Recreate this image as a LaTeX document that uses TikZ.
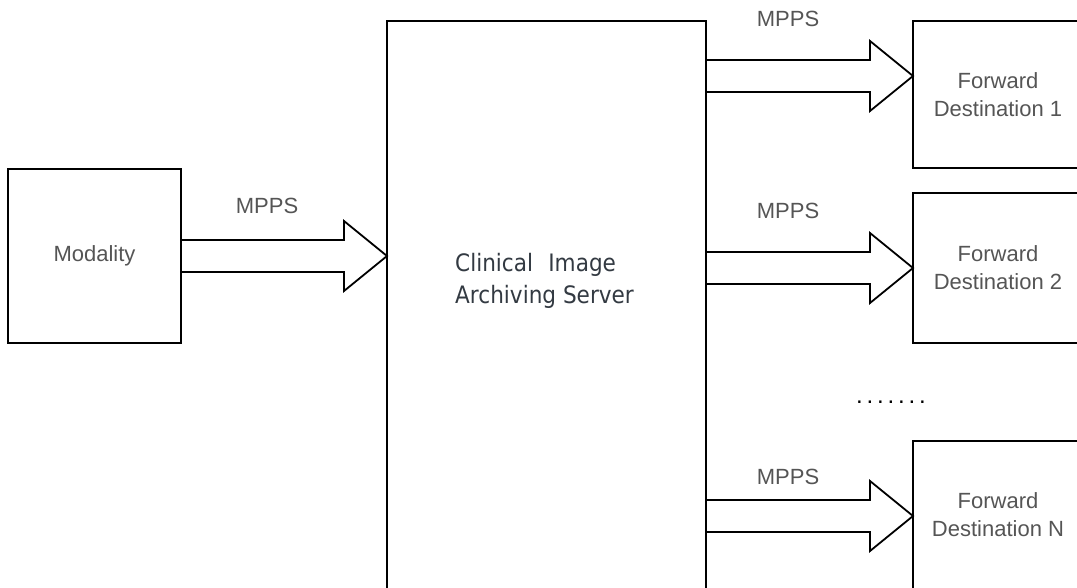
\documentclass[tikz,border=0pt]{standalone}
\usepackage{fontspec}
\setmainfont{Liberation Sans}
\newfontfamily\srvfont[FakeStretch=0.9]{DejaVu Sans}
\usetikzlibrary{calc}
\definecolor{labelgray}{HTML}{555555}
\definecolor{srvtext}{HTML}{333A42}

% block arrow: shaft from the start point's x to the tip
\newcommand\blockarrow[2]{%
  \draw[arrowline] let \p1=(#1), \p2=(#2) in
    (\x1,{\y2+16pt}) -- ({\x2-43pt},{\y2+16pt}) -- ({\x2-43pt},{\y2+35pt})
    -- (\p2) -- ({\x2-43pt},{\y2-35pt}) -- ({\x2-43pt},{\y2-16pt})
    -- (\x1,{\y2-16pt}) -- cycle;}

\tikzset{
  box/.style={draw=black, line width=1.8pt, rectangle, outer sep=0pt,
    inner sep=0pt, anchor=north west, text=labelgray,
    font=\fontsize{22}{28}\selectfont, align=center},
  arrowline/.style={draw=black, line width=1.8pt, line join=miter},
  lbl/.style={text=labelgray, font=\fontsize{22}{28}\selectfont, inner sep=0pt},
}

\begin{document}
\begin{tikzpicture}[x=1pt, y=-1pt]
  \clip (0,0) rectangle (1077,587);
  \fill[white] (0,0) rectangle (1077,587);

  % boxes
  \node[box, minimum width=173, minimum height=174] (mod) at (8,169) {\raisebox{-3pt}{Modality}};
  \node[box, minimum width=319, minimum height=600] (srv) at (387,21) {};
  \node[box, minimum width=170, minimum height=147] (fd1) at (913,21)
    {Forward\\Destination 1};
  \node[box, minimum width=170, minimum height=150] (fd2) at (913,193)
    {Forward\\Destination 2};
  \node[box, minimum width=170, minimum height=148] (fdn) at (913,441)
    {Forward\\Destination N};

  \node[anchor=west, inner sep=0pt, text=srvtext, align=left,
    font=\srvfont\fontsize{24}{32}\selectfont] (srvlabel) at (455,281)
    {Clinical\hspace{0.35em} Image\\Archiving Server};

  % arrow tips on the destination boxes
  \coordinate (t0) at (srv.west |- mod.east);
  \coordinate (t1) at ($(fd1.north west)+(0,55)$);
  \coordinate (t2) at ($(fd2.north west)+(0,75)$);
  \coordinate (tn) at ($(fdn.north west)+(0,75)$);

  \blockarrow{mod.east}{t0}
  \blockarrow{srv.east}{t1}
  \blockarrow{srv.east}{t2}
  \blockarrow{srv.east}{tn}

  % arrow labels
  \node[lbl] (m0) at (267,206) {MPPS};
  \node[lbl] (m1) at (788,19) {MPPS};
  \node[lbl] (m2) at (788,211) {MPPS};
  \node[lbl] (mn) at (788,477) {MPPS};

  \node[lbl, text=black, font=\fontsize{24}{28}\selectfont\addfontfeature{LetterSpace=16}]
    (dots) at (891,402) {.......};
\end{tikzpicture}
\end{document}
